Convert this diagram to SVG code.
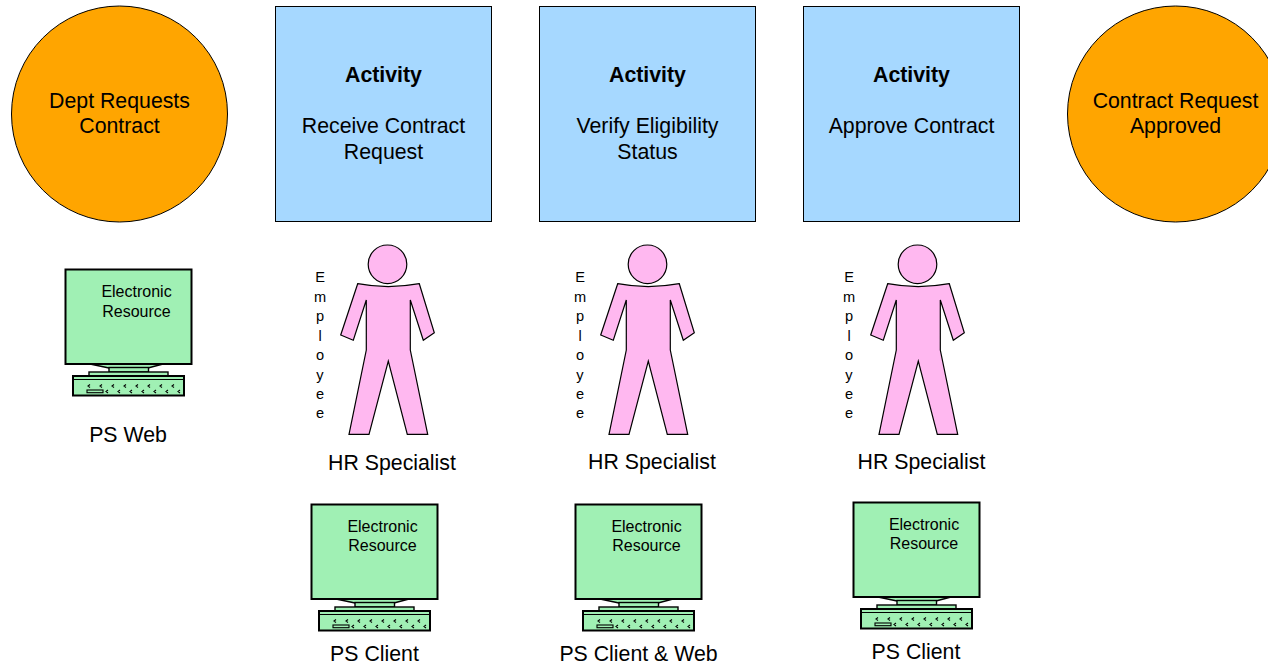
<svg xmlns="http://www.w3.org/2000/svg" width="1268" height="666" viewBox="0 0 1268 666">
<style>
text{font-family:"Liberation Sans",Arial,sans-serif;fill:#000;text-anchor:middle}
.l{font-size:21.3px}
.b{font-weight:bold}
.s{font-size:16px}
.v{font-size:14.6px}
.ev{fill:#ffa500;stroke:#000;stroke-width:1}
.act{fill:#a6d8ff;stroke:#000;stroke-width:1}
.pp{fill:#ffb8f0;stroke:#000;stroke-width:1.2;stroke-linejoin:miter}
.mon{fill:#a0f0b4;stroke:#000;stroke-width:2}
.thin{fill:#a0f0b4;stroke:#000;stroke-width:1.4}
.k{fill:none;stroke:#000;stroke-width:1.1}
</style>
<defs>
<g id="person">
<circle class="pp" cx="387.500" cy="264.300" r="19.300"/>
<path class="pp" d="M357.700 283.700Q388 289.500 419.300 283.700L434.300 332.700L423.300 340.300L410.300 300V350L427.700 434.300H407.300L388.300 361L369 434.300H349L366.300 350V300L353.300 340.300L340.700 335Z"/>
</g>
<g id="computer">
<path class="thin" d="M90 364L109 368H148L163 364Z"/>
<rect class="thin" x="109" y="367.500" width="39.500" height="4.500"/>
<rect class="thin" x="89" y="372" width="79" height="4"/>
<rect class="mon" x="65.500" y="269.500" width="126" height="94.500"/>
<rect class="mon" x="73" y="376" width="111" height="19.500"/>
<path d="M73 379.500H184" stroke="#000" stroke-width="1" fill="none"/>
<rect class="k" x="87" y="390" width="16" height="2.700"/>
<path class="k" d="M90 384.500l-2 1.500 2 1.500M102 384.500l-2 1.500 2 1.500M114 384.500l-2 1.500 2 1.500M126 384.500l-2 1.500 2 1.500M138 384.500l-2 1.500 2 1.500M150 384.500l-2 1.500 2 1.500M162 384.500l-2 1.500 2 1.500M174 384.500l-2 1.500 2 1.500M108 390l-2 1.500 2 1.500M120 390l-2 1.500 2 1.500M132 390l-2 1.500 2 1.500M144 390l-2 1.500 2 1.500M156 390l-2 1.500 2 1.500M168 390l-2 1.500 2 1.500M180 390l-2 1.500 2 1.500"/>
</g>
<g id="employee">
<text class="v" y="282">E</text><text class="v" y="302">m</text><text class="v" y="321">p</text><text class="v" y="341">l</text><text class="v" y="360">o</text><text class="v" y="380">y</text><text class="v" y="399">e</text><text class="v" y="418">e</text>
</g>
</defs>
<g id="connectors"></g>
<g id="start"><circle class="ev" cx="119.500" cy="114" r="108"/><text class="l" x="119.500" y="108">Dept Requests</text><text class="l" x="119.500" y="133">Contract</text></g>
<g id="end"><circle class="ev" cx="1175.500" cy="114" r="108"/><text class="l" x="1175.500" y="108">Contract Request</text><text class="l" x="1175.500" y="133">Approved</text></g>
<g id="activity1"><rect class="act" x="275.500" y="6.500" width="216" height="215"/><text class="l b" x="383.500" y="82">Activity</text><text class="l" x="383.500" y="133">Receive Contract</text><text class="l" x="383.500" y="159">Request</text></g>
<g id="activity2"><rect class="act" x="539.500" y="6.500" width="216" height="215"/><text class="l b" x="647.500" y="82">Activity</text><text class="l" x="647.500" y="133">Verify Eligibility</text><text class="l" x="647.500" y="159">Status</text></g>
<g id="activity3"><rect class="act" x="803.500" y="6.500" width="216" height="215"/><text class="l b" x="911.500" y="82">Activity</text><text class="l" x="911.500" y="133">Approve Contract</text></g>
<g id="person1"><use href="#person"/><use href="#employee" x="320"/><text class="l" x="392" y="470">HR Specialist</text></g>
<g id="person2"><use href="#person" x="260"/><use href="#employee" x="580"/><text class="l" x="652" y="469">HR Specialist</text></g>
<g id="person3"><use href="#person" x="530"/><use href="#employee" x="849"/><text class="l" x="921.500" y="469">HR Specialist</text></g>
<g id="computer0"><use href="#computer"/><text class="s" x="136.500" y="297">Electronic</text><text class="s" x="136.500" y="317">Resource</text><text class="l" x="128" y="442">PS Web</text></g>
<g id="computer1"><use href="#computer" x="246" y="235"/><text class="s" x="382.500" y="532">Electronic</text><text class="s" x="382.500" y="551">Resource</text><text class="l" x="374.500" y="661">PS Client</text></g>
<g id="computer2"><use href="#computer" x="510" y="235"/><text class="s" x="646.500" y="532">Electronic</text><text class="s" x="646.500" y="551">Resource</text><text class="l" x="638.500" y="661">PS Client &amp; Web</text></g>
<g id="computer3"><use href="#computer" x="788" y="233"/><text class="s" x="924" y="530">Electronic</text><text class="s" x="924" y="549">Resource</text><text class="l" x="916" y="659">PS Client</text></g>
</svg>
